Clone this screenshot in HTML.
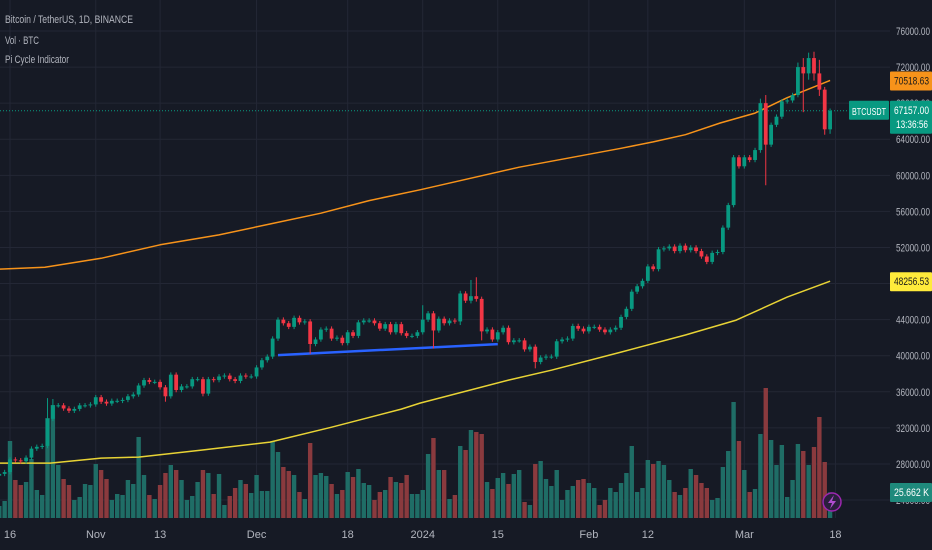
<!DOCTYPE html>
<html><head><meta charset="utf-8">
<style>
html,body{margin:0;padding:0;background:#161a25;width:932px;height:550px;overflow:hidden;font-family:"Liberation Sans",sans-serif;}
svg{display:block}
</style></head>
<body>
<svg id="chart" width="932" height="550" xmlns="http://www.w3.org/2000/svg">
<rect x="0" y="0" width="932" height="550" fill="#161a25"/>
<g id="grid"></g>
<g id="vol"></g>
<g id="lines"></g>
<g id="candles"></g>
<g id="axis"></g>
<g id="xaxis"></g>
<g font-size="11" fill="#b2b5be">
<text x="5" y="23" textLength="128" lengthAdjust="spacingAndGlyphs">Bitcoin / TetherUS, 1D, BINANCE</text>
<text x="5" y="44" textLength="34" lengthAdjust="spacingAndGlyphs">Vol · BTC</text>
<text x="5" y="63" textLength="64" lengthAdjust="spacingAndGlyphs">Pi Cycle Indicator</text>
</g>
<g>
<circle cx="832" cy="502" r="9" fill="#2a1f3d" stroke="#9c27b0" stroke-width="1.5"/>
<path d="M834 495 L828 503 L832 503 L830 509 L836 501 L832 501 Z" fill="#b04dd0"/>
</g>
</svg>
<script>
const closes=[26900,27100,
28500,28400,28300,28700,29700,29900,30000,33000,34500,34500,
34150,33900,34100,34500,34500,34600,35400,34900,34700,35000,
35000,35100,35500,35700,36700,37300,37100,37100,36500,35500,
37900,36200,36600,36600,37400,37400,35800,37400,37300,37700,
37800,37400,37200,37800,37700,37700,38700,39500,39900,41900,
44000,43600,43200,44200,43700,43800,41300,41800,42900,43000,
41900,42000,41400,42600,42200,43700,43900,43900,43600,43000,
43500,42600,43500,42500,42200,42200,42600,44000,44700,42800,
44100,43600,43900,43800,46900,46100,46600,46300,42700,42900,
41800,42600,43100,41500,41700,41700,40700,41000,39300,39800,
39900,39900,41600,41800,41900,43300,43000,42700,43200,43200,
42900,42600,42900,43100,44300,45200,47100,47700,48300,49900,
49600,51800,51900,52100,51600,52200,51700,52000,51600,51000,
50400,51400,51500,54200,56700,62000,61000,62000,61700,62800,
68000,63400,65600,66500,68200,68300,68900,72000,71300,73000,
71300,69500,65100,67157];
const volumes=[12,17,77,38,33,36,59,28,23,100,113,53,39,33,18,21,34,33,54,48,39,18,24,23,38,34,81,43,23,19,33,45,53,48,38,18,22,36,48,45,24,44,13,22,30,38,34,25,43,27,27,77,66,51,47,43,26,19,75,43,45,42,34,24,28,46,41,49,35,33,18,26,28,41,36,35,43,24,
24,28,64,80,48,48,19,23,72,68,88,86,84,36,29,40,45,34,44,48,16,13,54,57,39,32,48,18,28,32,38,39,35,30,13,18,30,26,35,45,72,26,30,58,54,57,53,38,26,23,30,49,43,35,30,18,20,51,67,116,77,48,26,29,84,130,78,53,73,21,38,74,67,53,71,101,56,25.662];
const wickDays=[7,8,29,36,56,77,79,84,86,87,88,98,140,141,147,148,149,150,151,152,153];
const wickHighs=[35300,35200,36600,37600,43900,45600,44800,47200,48400,48700,46500,41100,68500,68900,72500,73000,73600,73700,72800,69800,67400];
const wickLows=[32900,34300,34900,35500,40200,42500,40800,43400,45800,46000,41700,38600,62500,58900,68700,67000,70600,70500,68800,64500,64600];
const maDays=[-2,6.5,17,28,39,48.5,58,67,76.5,95,114,120,126,132.5,139,145,153];
const orangeVals=[49600,49800,50800,52300,53400,54600,55800,57200,58400,60900,63000,63700,64500,65800,66900,68600,70518.63];
const yDays=[-2,7.5,17,24,35.5,48.5,60,73,76.5,93,101,114,126,135.5,145,153];
const yellowVals=[28090,28090,28650,28760,29530,30420,32080,34080,34750,37300,38400,40400,42300,43950,46500,48256.53];
const trendDays=[50,91];
const trendVals=[40070,41290];
const priceTicks=[76000,72000,68000,64000,60000,56000,52000,48000,44000,40000,36000,32000,28000,24000];
const timeLabels=["16","Nov","13","Dec","18","2024","15","Feb","12","Mar","18"];
const timeDays=[0,16,28,46,63,77,91,108,119,137,154];
const firstDay=-2;

const NS="http://www.w3.org/2000/svg";
const PLOT_R=890;
function xD(d){return 10+d*5.36;}
function yP(p){return 31+(76000-p)*36.08/4000;}
function yV(v){return 518-v*1.0;}
function mk(tag,attrs,parent){const e=document.createElementNS(NS,tag);for(const k in attrs)e.setAttribute(k,attrs[k]);parent.appendChild(e);return e;}

const grid=document.getElementById('grid');
priceTicks.forEach(p=>{
  const l=mk('line',{x1:0,x2:PLOT_R,y1:yP(p),y2:yP(p),stroke:'#232735','stroke-width':1},grid);
  
  
});
timeDays.forEach(d=>{
  const l=mk('line',{x1:xD(d),x2:xD(d),y1:0,y2:518,stroke:'#232735','stroke-width':1},grid);
  
  
});

const vol=document.getElementById('vol');
const cg=document.getElementById('candles');
for(let i=0;i<closes.length;i++){
  const d=i+firstDay;
  const c=closes[i];
  const o=i>0?closes[i-1]:26700;
  const up=c>=o;
  const x=xD(d);
  const vb=mk('rect',{x:x-2.2,y:yV(volumes[i]),width:4.4,height:518-yV(volumes[i]),fill:up?'#1f6d66':'#8a3a3e'},vol);
  
  
  const k=wickDays.indexOf(d);
  let hi=Math.max(o,c)+250, lo=Math.min(o,c)-250;
  if(k>=0){hi=Math.max(hi,wickHighs[k]);lo=Math.min(lo,wickLows[k]);}
  const col=up?'#089981':'#f23645';
  const w=mk('line',{x1:x,x2:x,y1:yP(hi),y2:yP(lo),stroke:col,'stroke-width':1},cg);
  
  
  const top=yP(Math.max(o,c)), bot=yP(Math.min(o,c));
  const b=mk('rect',{x:x-1.9,y:top,width:3.8,height:Math.max(1,bot-top),fill:col},cg);
  
  
}

const lines=document.getElementById('lines');
function poly(days,vals,color,w,name){
  const pts=days.map((d,i)=>xD(d).toFixed(1)+','+yP(vals[i]).toFixed(1)).join(' ');
  const p=mk('polyline',{points:pts,fill:'none',stroke:color,'stroke-width':w,'stroke-linejoin':'round'},lines);
  
  
}
poly(maDays,orangeVals,'#f7931a',1.5,'pi-cycle-long-ma');
poly(yDays,yellowVals,'#e8d335',1.5,'pi-cycle-short-ma');
poly(trendDays,trendVals,'#2962ff',2.5,'support-trendline');
const cur=mk('line',{x1:0,x2:PLOT_R,y1:yP(67157),y2:yP(67157),stroke:'#089981','stroke-width':1,'stroke-dasharray':'1 2'},lines);



const ax=document.getElementById('axis');
priceTicks.forEach(p=>{
  const t=mk('text',{x:896,y:yP(p)+4,fill:'#b2b5be','font-size':11,textLength:34,lengthAdjust:'spacingAndGlyphs'},ax);
  t.textContent=p.toFixed(2);
  
  
});
function badge(y,h,bg,fg,txt,name,txt2){
  const g=mk('g',{},ax);
  
  
  mk('rect',{x:890,y:y,width:42,height:h,fill:bg,rx:1},g);
  const t=mk('text',{x:894,y:y+13,fill:fg,'font-size':11,textLength:35,lengthAdjust:'spacingAndGlyphs'},g);
  t.textContent=txt;
  if(txt2){const t2=mk('text',{x:896,y:y+27,fill:fg,'font-size':11,textLength:32,lengthAdjust:'spacingAndGlyphs'},g);t2.textContent=txt2;}
}
badge(yP(70518.63)-9,19,'#f7931a','#1a1a1a','70518.63','long-ma-price-badge');
badge(yP(67157)-10,33,'#089981','#ffffff','67157.00','last-price-badge','13:36:56');
badge(yP(48256.53)-9,19,'#ffeb3b','#1a1a1a','48256.53','short-ma-price-badge');
badge(483,19,'#1f8a7c','#ffffff','25.662 K','volume-badge');
const sym=mk('g',{},ax);


mk('rect',{x:849,y:yP(67157)-10,width:40,height:19,fill:'#089981',rx:1},sym);
const st=mk('text',{x:852,y:yP(67157)+4,fill:'#fff','font-size':10,textLength:34,lengthAdjust:'spacingAndGlyphs'},sym);
st.textContent='BTCUSDT';

const xa=document.getElementById('xaxis');
timeLabels.forEach((s,i)=>{
  const t=mk('text',{x:xD(timeDays[i]),y:538,fill:'#b2b5be','font-size':11,'text-anchor':'middle'},xa);
  t.textContent=s;
  
  
});
</script>
</body></html>
